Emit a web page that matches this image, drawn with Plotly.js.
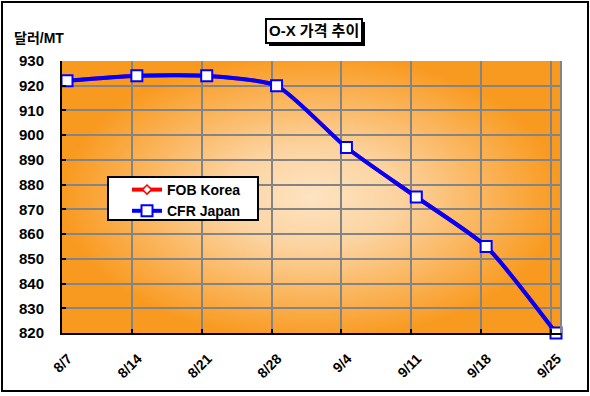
<!DOCTYPE html>
<html>
<head>
<meta charset="utf-8">
<script src="https://cdn.plot.ly/plotly-3.0.1.min.js"></script>
<style>
html,body{margin:0;padding:0;background:#fff;}
#chart{width:590px;height:396px;}
</style>
</head>
<body>
<div id="chart"></div>
<script>
// ---- data ----
const dates = ['2009-08-07','2009-08-14','2009-08-21','2009-08-28','2009-09-04','2009-09-11','2009-09-18','2009-09-25'];
const tickLabels = ['8/7','8/14','8/21','8/28','9/4','9/11','9/18','9/25'];
const fobKorea = [922, 924, 924, 920, 895, 875, 855, 820];
const cfrJapan = [922, 924, 924, 920, 895, 875, 855, 820];
const seriesNames = ['FOB Korea', 'CFR Japan'];
const chartTitle = 'O-X 가격 추이';
const yUnit = '달러/MT';

// ---- layout geometry (pixels) ----
const W = 590, H = 396;
const L = 62, R = 561, T = 61, B = 333;
const pw = R - L, ph = B - T;
const px = p => (p - L) / pw;
const py = p => (B - p) / ph;

// points sit mid-day on the date axis (Excel date-axis style)
const xPts = dates.map(d => d + ' 12:00');

// gradient background image
function gradientURL() {
  const c = document.createElement('canvas');
  c.width = pw; c.height = ph;
  const g = c.getContext('2d');
  g.save();
  g.translate(pw / 2, ph / 2);
  g.scale(pw / ph * 0.95, 1);
  const r = ph / 2 * 1.05;
  const grd = g.createRadialGradient(0, 0, 0, 0, 0, r);
  grd.addColorStop(0, '#FDE4C2');
  grd.addColorStop(0.35, '#FCD3A0');
  grd.addColorStop(1, '#F99A20');
  g.fillStyle = grd;
  g.fillRect(-pw, -ph, pw * 3, ph * 3);
  g.restore();
  return c.toDataURL('image/png');
}

const FONT = 'Arial, "Liberation Sans", "Noto Sans CJK KR", sans-serif';

const traces = [
  {
    x: xPts, y: fobKorea, name: seriesNames[0], type: 'scatter', mode: 'lines+markers',
    cliponaxis: false,
    line: {color: '#FF0000', width: 4, shape: 'spline', smoothing: 0.6},
    marker: {symbol: 'diamond', size: 7, color: '#FFFFFF', line: {color: '#FF0000', width: 1.5}}
  },
  {
    x: xPts, y: cfrJapan, name: seriesNames[1], type: 'scatter', mode: 'lines+markers',
    cliponaxis: false,
    line: {color: '#0000FF', width: 4, shape: 'spline', smoothing: 0.6},
    marker: {symbol: 'square', size: 11, color: '#FFFFFF', line: {color: '#0000FF', width: 2}}
  }
];

const layout = {
  width: W, height: H,
  margin: {l: L, r: W - R, t: T, b: H - B, pad: 0},
  paper_bgcolor: '#FFFFFF',
  plot_bgcolor: 'rgba(0,0,0,0)',
  showlegend: true,
  font: {family: FONT, color: '#000', size: 13},
  xaxis: {
    type: 'date',
    range: ['2009-08-07', '2009-09-26'],
    tickvals: dates, ticktext: tickLabels,
    tickangle: -45,
    ticks: 'inside', ticklen: 4, tickwidth: 2, tickcolor: '#000',
    showline: true, linecolor: '#000', linewidth: 2,
    showgrid: true, gridcolor: '#848484', gridwidth: 2,
    zeroline: false,
    tickfont: {family: FONT, size: 14, weight: 'bold', color: '#000'},
    ticklabelstandoff: 10, ticklabelshift: 6,
    fixedrange: true
  },
  yaxis: {
    range: [820, 930], dtick: 10, tick0: 820,
    ticks: 'inside', ticklen: 4, tickwidth: 2, tickcolor: '#000',
    showline: true, linecolor: '#000', linewidth: 2,
    showgrid: true, gridcolor: '#848484', gridwidth: 2,
    zeroline: false,
    tickfont: {family: FONT, size: 15, weight: 'bold', color: '#000'},
    ticklabelstandoff: 13,
    fixedrange: true
  },
  legend: {
    x: px(127), y: py(174), xanchor: 'left', yanchor: 'top',
    bgcolor: 'rgba(0,0,0,0)', borderwidth: 0,
    font: {family: FONT, size: 14, weight: 'bold', color: '#000'},
    itemwidth: 30, tracegroupgap: 0
  },
  images: [{
    source: gradientURL(), xref: 'paper', yref: 'paper',
    x: 0, y: 1, sizex: 1, sizey: 1, sizing: 'stretch', layer: 'below'
  }],
  shapes: [
    // right border of plot area (gray)
    {type: 'line', xref: 'paper', yref: 'paper', x0: 1, x1: 1, y0: 0, y1: 1,
     line: {color: '#848484', width: 2}},
    // outer chart border
    {type: 'rect', xref: 'paper', yref: 'paper', x0: px(2), x1: px(588), y0: py(391), y1: py(2),
     line: {color: '#000', width: 2}, fillcolor: 'rgba(0,0,0,0)'},
    // legend box
    {type: 'rect', xref: 'paper', yref: 'paper', x0: px(108), x1: px(258), y0: py(220), y1: py(177),
     line: {color: '#000', width: 2}, fillcolor: '#FFFFFF', layer: 'above'},
    // title shadow
    {type: 'rect', xref: 'paper', yref: 'paper', x0: px(269), x1: px(365), y0: py(46), y1: py(22),
     line: {width: 0}, fillcolor: '#000'},
    // title box
    {type: 'rect', xref: 'paper', yref: 'paper', x0: px(266), x1: px(362), y0: py(43), y1: py(19),
     line: {color: '#000', width: 2}, fillcolor: '#FFFFFF'}
  ],
  annotations: [
    {text: '<b>' + chartTitle + '</b>', xref: 'paper', yref: 'paper',
     x: px(314), y: py(31), xanchor: 'center', yanchor: 'middle', showarrow: false,
     font: {family: FONT, size: 15, color: '#000'}},
    {text: '<b>' + yUnit + '</b>', xref: 'paper', yref: 'paper',
     x: px(12), y: py(38), xanchor: 'left', yanchor: 'middle', showarrow: false,
     font: {family: FONT, size: 14, color: '#000'}}
  ]
};

Plotly.newPlot('chart', traces, layout, {displayModeBar: false, staticPlot: true});
</script>
</body>
</html>
